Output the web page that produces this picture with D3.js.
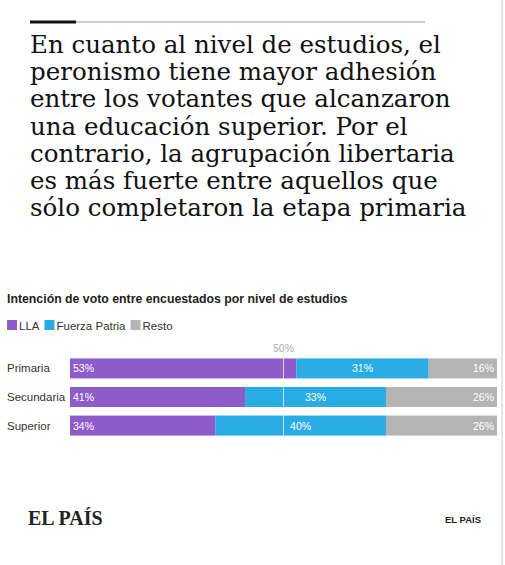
<!DOCTYPE html>
<html lang="es">
<head>
<meta charset="UTF-8">
<script src="https://d3js.org/d3.v7.min.js"></script>
<style>
  body { margin: 0; background: #fff; }
</style>
</head>
<body>
<svg width="505" height="565"></svg>
<script>
var categories = ["Primaria", "Secundaria", "Superior"];
var seriesNames = ["LLA", "Fuerza Patria", "Resto"];
var colors = ["#8e5bcb", "#29ace3", "#b4b4b4"];
var lla = [53, 41, 34];
var fuerzaPatria = [31, 33, 40];
var resto = [16, 26, 26];
var titleLines = [
  "En cuanto al nivel de estudios, el",
  "peronismo tiene mayor adhesión",
  "entre los votantes que alcanzaron",
  "una educación superior. Por el",
  "contrario, la agrupación libertaria",
  "es más fuerte entre aquellos que",
  "sólo completaron la etapa primaria"
];

var svg = d3.select("svg");
var sans = "Liberation Sans, Arial, sans-serif";

// top rules
svg.append("line").attr("x1", 30).attr("x2", 425).attr("y1", 22).attr("y2", 22)
  .attr("stroke", "#999").attr("stroke-width", 1);
svg.append("line").attr("x1", 30).attr("x2", 76).attr("y1", 22).attr("y2", 22)
  .attr("stroke", "#111").attr("stroke-width", 3);
// right frame line
svg.append("line").attr("x1", 502).attr("x2", 502).attr("y1", 0).attr("y2", 565)
  .attr("stroke", "#ccc");

svg.append("g").selectAll("text").data(titleLines).enter().append("text")
  .attr("x", 30).attr("y", function(d, i) { return 53 + i * 27.2; })
  .attr("font-family", "DejaVu Serif, serif").attr("font-size", "24.5px")
  .attr("fill", "#111").text(function(d) { return d; });

svg.append("text").attr("x", 7).attr("y", 303)
  .attr("font-family", sans).attr("font-weight", "bold")
  .attr("font-size", "12.3px").attr("fill", "#222")
  .text("Intención de voto entre encuestados por nivel de estudios");

// legend, items laid out by measured width
var legG = svg.append("g").attr("transform", "translate(7,320)");
var lx = 0;
seriesNames.forEach(function(name, i) {
  var item = legG.append("g").attr("transform", "translate(" + lx + ",0)");
  item.append("rect").attr("width", 10).attr("height", 10).attr("fill", colors[i]);
  var t = item.append("text").attr("x", 12).attr("y", 9.5)
    .attr("font-family", sans).attr("font-size", "11.5px")
    .attr("fill", "#333").text(name);
  lx += 12 + t.node().getComputedTextLength() + 5;
});

var x = d3.scaleLinear().domain([0, 100]).range([70, 497]);
var y = d3.scaleBand().domain(categories).range([355, 439]).paddingInner(0.3).paddingOuter(0.12);

var rows = categories.map(function(c, i) {
  return { cat: c, LLA: lla[i], "Fuerza Patria": fuerzaPatria[i], Resto: resto[i] };
});
var stacked = d3.stack().keys(seriesNames)(rows);

var g = svg.append("g");
stacked.forEach(function(layer, li) {
  g.selectAll(null).data(layer).enter().append("rect")
    .attr("x", function(d) { return x(d[0]); })
    .attr("y", function(d) { return y(d.data.cat); })
    .attr("width", function(d) { return x(d[1]) - x(d[0]); })
    .attr("height", y.bandwidth())
    .attr("fill", colors[li]);
});

// value labels
stacked.forEach(function(layer, li) {
  g.selectAll(null).data(layer).enter().append("text")
    .attr("x", function(d) {
      if (li === 0) return x(d[0]) + 3;
      if (li === 2) return x(d[1]) - 3;
      return (x(d[0]) + x(d[1])) / 2;
    })
    .attr("y", function(d) { return y(d.data.cat) + y.bandwidth() / 2 + 4; })
    .attr("text-anchor", li === 0 ? "start" : li === 2 ? "end" : "middle")
    .attr("font-family", sans).attr("font-size", "10.5px").attr("fill", "#fff")
    .text(function(d) { return (d[1] - d[0]) + "%"; });
});

// 50% reference
svg.append("line").attr("x1", x(50)).attr("x2", x(50))
  .attr("y1", y(categories[0])).attr("y2", y(categories[2]) + y.bandwidth())
  .attr("stroke", "#fff").attr("stroke-opacity", 0.7);
svg.append("text").attr("x", x(50)).attr("y", 352).attr("text-anchor", "middle")
  .attr("font-family", sans).attr("font-size", "10.5px").attr("fill", "#aaa").text("50%");

// category labels
svg.append("g").selectAll("text").data(categories).enter().append("text")
  .attr("x", 7).attr("y", function(d) { return y(d) + y.bandwidth() / 2 + 4; })
  .attr("font-family", sans).attr("font-size", "11.5px").attr("fill", "#333")
  .text(function(d) { return d; });

// footer
svg.append("text").attr("x", 28).attr("y", 525)
  .attr("font-family", "Liberation Serif, serif").attr("font-weight", "bold")
  .attr("font-size", "20px").attr("fill", "#222").text("EL PAÍS");
svg.append("text").attr("x", 445).attr("y", 523)
  .attr("font-family", sans).attr("font-weight", "bold")
  .attr("font-size", "9.5px").attr("fill", "#222").text("EL PAÍS");
</script>
</body>
</html>
